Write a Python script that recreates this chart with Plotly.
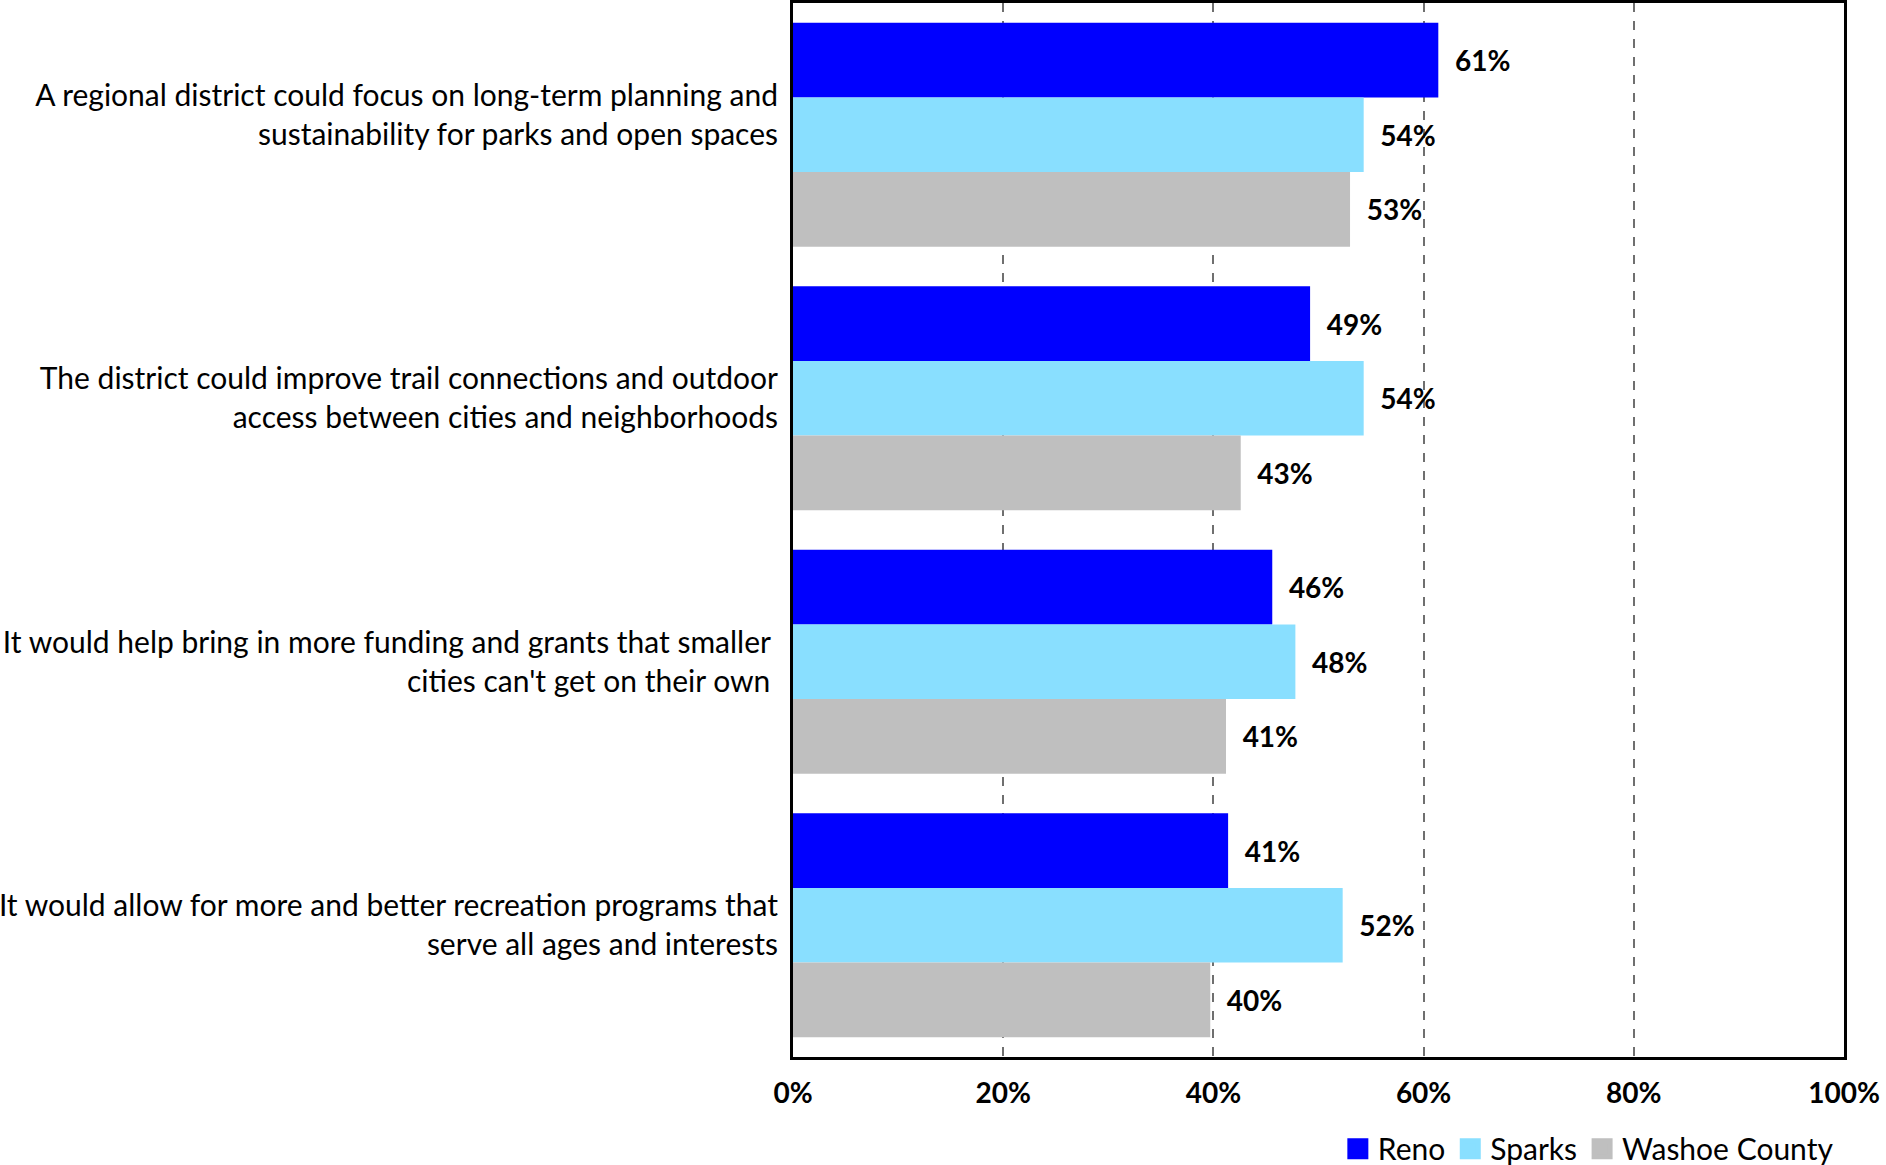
import plotly.graph_objects as go

categories = [
    "A regional district could focus on long-term planning and<br>sustainability for parks and open spaces<br> ",
    "The district could improve trail connections and outdoor<br>access between cities and neighborhoods",
    "It would help bring in more funding and grants that smaller\u00a0<br>cities can't get on their own\u00a0",
    "It would allow for more and better recreation programs that<br>serve all ages and interests",
]
series_names = ["Reno", "Sparks", "Washoe County"]
reno = [61.4, 49.2, 45.6, 41.4]
sparks = [54.3, 54.3, 47.8, 52.3]
washoe = [53.0, 42.6, 41.2, 39.7]
colors = ["#0000FF", "#89DFFF", "#BFBFBF"]
tick_vals = [0, 20, 40, 60, 80, 100]
tick_text = ["0%", "20%", "40%", "60%", "80%", "100%"]

FONT = "Lato"

fig = go.Figure()
for name, vals, col in zip(series_names, [reno, sparks, washoe], colors):
    fig.add_trace(go.Bar(
        y=categories, x=vals, name=name, orientation="h",
        marker=dict(color=col, line=dict(width=0)),
        texttemplate="  %{x:.0f}%", textposition="outside",
        textfont=dict(family=FONT, size=28, color="black", weight="bold"),
        cliponaxis=False, showlegend=False,
    ))
# legend entries (larger square swatches)
for name, col in zip(series_names, colors):
    fig.add_trace(go.Scatter(
        x=[None], y=[None], mode="markers", name=name,
        marker=dict(symbol="square", size=16, color=col, line=dict(color=col, width=5)),
    ))

fig.update_layout(
    width=1886, height=1165,
    margin=dict(l=793, r=42, t=3, b=108, autoexpand=False),
    barmode="group", bargap=0.15, bargroupgap=0,
    plot_bgcolor="white", paper_bgcolor="white",
    font=dict(family=FONT, color="black"),
    legend=dict(orientation="h", xref="container", yref="container",
                xanchor="right", x=0.975, yanchor="middle", y=0.014,
                font=dict(family=FONT, size=30), traceorder="normal",
                itemwidth=30, tracegroupgap=0),
    xaxis=dict(range=[0, 100], tickvals=tick_vals, ticktext=tick_text,
               showgrid=True, gridcolor="#6f6f6f", gridwidth=1.5, griddash="dash",
               showline=True, linecolor="black", linewidth=3, mirror=True,
               zeroline=False, ticks="", ticklabelstandoff=9,
               tickfont=dict(family=FONT, size=28, weight="bold")),
    yaxis=dict(autorange="reversed", showline=True, linecolor="black", linewidth=3,
               mirror=True, ticks="", ticklabelstandoff=6,
               tickfont=dict(family=FONT, size=30)),
)

fig.write_html("out.html", config={"displayModeBar": False},
               post_script="document.body.style.margin='0px';")
